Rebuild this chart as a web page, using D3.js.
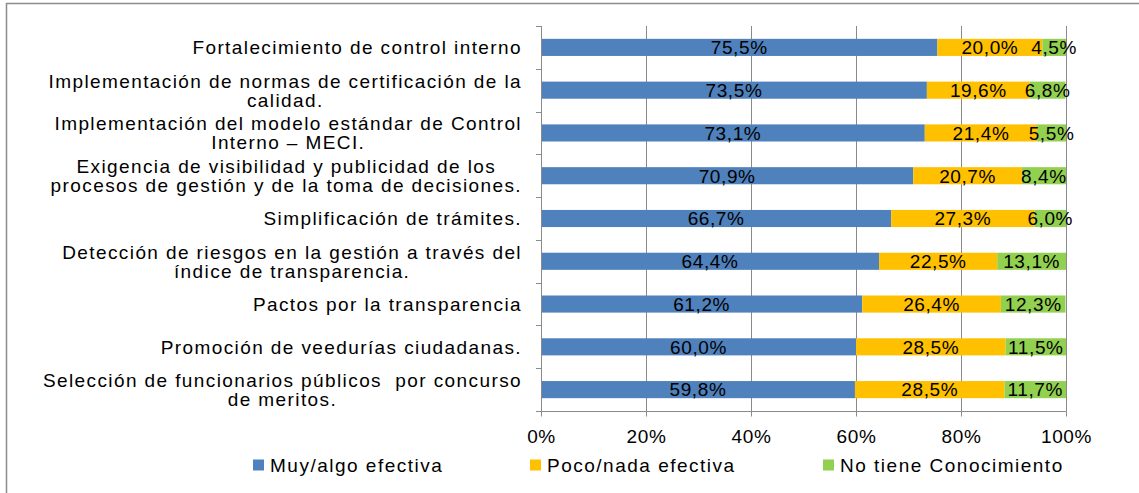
<!DOCTYPE html>
<html>
<head>
<meta charset="utf-8">
<script src="https://cdn.jsdelivr.net/npm/d3@7"></script>
<style>
  html, body { margin: 0; padding: 0; background: #fff; }
  svg text { font-family: "Liberation Sans", Arial, sans-serif; fill: #000; white-space: pre; }
</style>
</head>
<body>
<svg id="chart" width="1139" height="493"></svg>
<script>
// ---- data ----
const categories = [
  ["Fortalecimiento de control interno"],
  ["Implementación de normas de certificación de la", "calidad."],
  ["Implementación del modelo estándar de Control", "Interno – MECI."],
  ["Exigencia de visibilidad y publicidad de los", "procesos de gestión y de la toma de decisiones."],
  ["Simplificación de trámites."],
  ["Detección de riesgos en la gestión a través del", "índice de transparencia."],
  ["Pactos por la transparencia"],
  ["Promoción de veedurías ciudadanas."],
  ["Selección de funcionarios públicos  por concurso", "de meritos."]
];
const seriesNames = ["Muy/algo efectiva", "Poco/nada efectiva", "No tiene Conocimiento"];
const muyAlgo   = [75.5, 73.5, 73.1, 70.9, 66.7, 64.4, 61.2, 60.0, 59.8];
const pocoNada  = [20.0, 19.6, 21.4, 20.7, 27.3, 22.5, 26.4, 28.5, 28.5];
const noConoce  = [4.5, 6.8, 5.5, 8.4, 6.0, 13.1, 12.3, 11.5, 11.7];
const xTicks    = [0, 20, 40, 60, 80, 100];
const colors    = ["#4F81BD", "#FFC000", "#92D050"];

// ---- layout ----
const svg = d3.select("#chart");
const plot = { left: 541, right: 1066, top: 26, bottom: 411 };
const FS = 19;

// frame
svg.append("path")
  .attr("d", "M6.5,493 L6.5,3.5 L1139,3.5")
  .attr("fill", "none").attr("stroke", "#8c8c8c").attr("stroke-width", 1.5);

const x = d3.scaleLinear().domain([0, 100]).range([plot.left, plot.right]);
const idx = categories.map((d, i) => i);
const y = d3.scaleBand().domain(idx).range([plot.top, plot.bottom]).paddingInner(0.6).paddingOuter(0.3);
const yb = d3.scaleBand().domain(idx).range([plot.top, plot.bottom]);

// gridlines
svg.append("g").selectAll("line").data(xTicks.slice(1)).join("line")
  .attr("x1", d => Math.round(x(d)) + 0.5).attr("x2", d => Math.round(x(d)) + 0.5)
  .attr("y1", plot.top).attr("y2", plot.bottom)
  .attr("stroke", "#8a8a8a").attr("stroke-width", 1);

// stacked data
const rows = idx.map(i => ({ i, vals: [muyAlgo[i], pocoNada[i], noConoce[i]] }));
const stack = d3.stack().keys([0, 1, 2]).value((d, k) => d.vals[k]);
const stacked = stack(rows);

const g = svg.append("g");
stacked.forEach((layer, k) => {
  g.append("g").selectAll("rect").data(layer).join("rect")
    .attr("x", d => x(d[0]))
    .attr("width", d => x(d[1]) - x(d[0]))
    .attr("y", d => y(d.data.i))
    .attr("height", y.bandwidth())
    .attr("fill", colors[k]);
});

// data labels
const fmt = v => v.toFixed(1).replace(".", ",") + "%";
stacked.forEach((layer, k) => {
  g.append("g").selectAll("text").data(layer).join("text")
    .attr("x", d => (x(d[0]) + x(d[1])) / 2)
    .attr("y", d => y(d.data.i) + y.bandwidth() / 2)
    .attr("dy", "0.36em")
    .attr("text-anchor", "middle")
    .style("font-size", FS + "px").style("letter-spacing", "0.6px")
    .text(d => fmt(d.data.vals[k]));
});

// y axis
const yAxis = d3.axisLeft(yb).tickSize(0).tickFormat("");
const yAxisG = svg.append("g").attr("transform", `translate(${plot.left + 0.5},0)`).call(yAxis);
yAxisG.select(".domain").attr("stroke", "#8a8a8a").attr("d", `M0,${plot.top}V${plot.bottom}`);
svg.append("g").selectAll("line").data(d3.range(0, categories.length + 1)).join("line")
  .attr("x1", plot.left - 5).attr("x2", plot.left)
  .attr("y1", d => Math.round(plot.top + d * yb.step()) + 0.5)
  .attr("y2", d => Math.round(plot.top + d * yb.step()) + 0.5)
  .attr("stroke", "#8a8a8a");

// x axis
const xAxis = d3.axisBottom(x).tickValues(xTicks).tickSize(5).tickPadding(13).tickFormat(d => d + "%");
const xAxisG = svg.append("g").attr("transform", `translate(0,${plot.bottom + 0.5})`).call(xAxis);
xAxisG.select(".domain").attr("stroke", "#8a8a8a").attr("d", `M${plot.left},0H${plot.right + 0.5}`);
xAxisG.selectAll(".tick line").attr("stroke", "#8a8a8a");
xAxisG.selectAll(".tick text")
  .style("font-family", '"Liberation Sans", Arial, sans-serif')
  .style("font-size", FS + "px").style("letter-spacing", "0.6px").attr("fill", "#000");

// category labels (Excel-style: lines centred on each other, block right-aligned)
const labelRight = 522, lineH = 19;
categories.forEach((lines, i) => {
  const cy = yb(i) + yb.bandwidth() / 2;
  const grp = svg.append("g");
  const texts = lines.map((ln, j) => grp.append("text")
    .attr("y", cy + (j - (lines.length - 1) / 2) * lineH)
    .attr("dy", "0.36em")
    .attr("text-anchor", "middle")
    .style("font-size", FS + "px").style("letter-spacing", "1.4px")
    .text(ln));
  const maxW = d3.max(texts, t => t.node().getComputedTextLength());
  texts.forEach(t => t.attr("x", labelRight - maxW / 2));
});

// legend
const legendX = [253, 530, 823];
const legendY = 465;
const lg = svg.append("g");
seriesNames.forEach((name, k) => {
  lg.append("rect").attr("x", legendX[k]).attr("y", legendY - 5.5)
    .attr("width", 11).attr("height", 11).attr("fill", colors[k]);
  lg.append("text").attr("x", legendX[k] + 17).attr("y", legendY).attr("dy", "0.36em")
    .style("font-size", FS + "px").style("letter-spacing", "1.5px").text(name);
});
</script>
</body>
</html>
